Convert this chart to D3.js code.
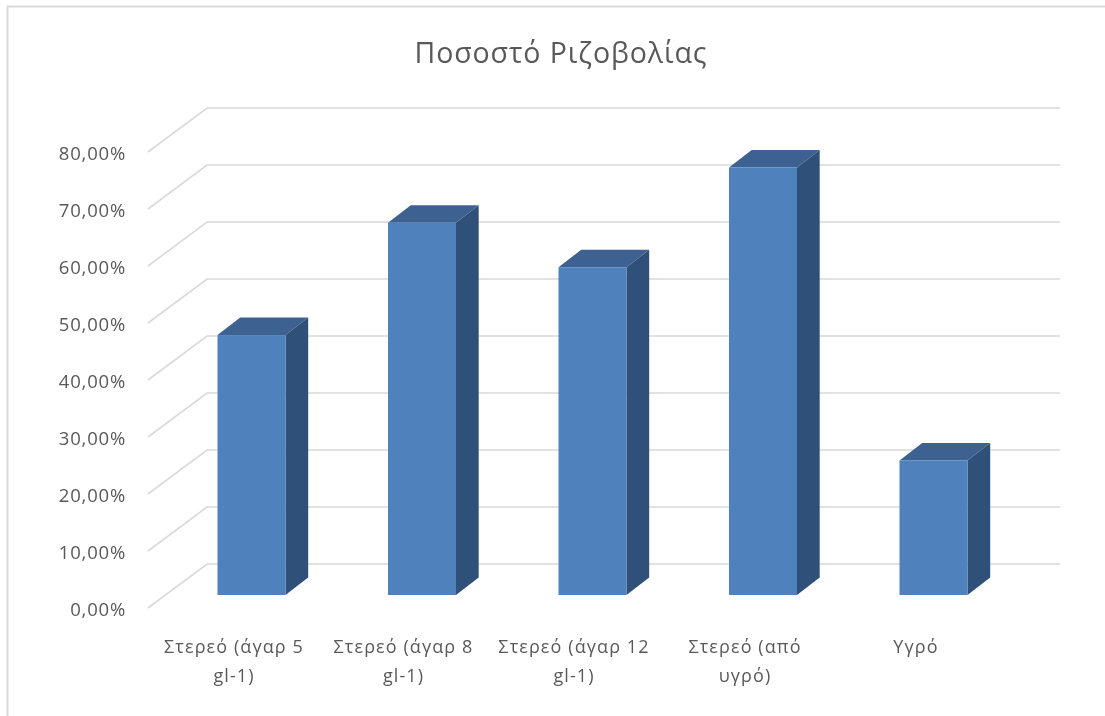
<!DOCTYPE html>
<html><head><meta charset="utf-8">
<script src="https://cdn.jsdelivr.net/npm/d3@7"></script>
<style>html,body{margin:0;padding:0;background:#fff;overflow:hidden}
svg{display:block;filter:blur(0.4px)}
text{font-family:"Open Sans","Noto Sans",sans-serif;fill:#595959}</style></head>
<body><svg id="c" width="1105" height="716"></svg>
<script>
const titleText = "Ποσοστό Ριζοβολίας";
const categories = ["Στερεό (άγαρ 5 gl-1)","Στερεό (άγαρ 8 gl-1)","Στερεό (άγαρ 12 gl-1)","Στερεό (από υγρό)","Υγρό"];
const categoryLines = [["Στερεό (άγαρ 5","gl-1)"],["Στερεό (άγαρ 8","gl-1)"],["Στερεό (άγαρ 12","gl-1)"],["Στερεό (από","υγρό)"],["Υγρό"]];
const labelCentres = [234,403.5,574,745,916];
const values = [45.6, 65.3, 57.5, 75, 23.6];
const tickValues = [0,10,20,30,40,50,60,70,80];

const svg = d3.select("#c");
const depthX = 59, depthY = 44, barDepthX = 22.7, barDepthY = 17.5;
const pxPer80 = 456;
const yFront = d3.scaleLinear().domain([0,80]).range([608, 608-pxPer80]);
const yBack  = d3.scaleLinear().domain([0,80]).range([608-depthY, 608-depthY-pxPer80]);
const yBar   = d3.scaleLinear().domain([0,80]).range([595, 595-pxPer80]);
const x = d3.scaleBand().domain(categories).range([166.25, 1018.75]).paddingInner(0.6012).paddingOuter(0.3006);
const xFront = 148, xBack = xFront+depthX, xRight = 1060;

// frame
svg.append("path").attr("d","M7.5,716V6.5H1105").attr("fill","none").attr("stroke","#d9d9d9").attr("stroke-width",2);

// gridlines
const grid = svg.append("g").attr("fill","none").attr("stroke","#d9d9d9").attr("stroke-width",1.6);
grid.selectAll("path").data(tickValues).join("path")
  .attr("d",d=>`M${xFront},${yFront(d)}L${xBack},${yBack(d)}H${xRight}`);

// tick labels
const axis = d3.axisLeft(yFront).tickValues(tickValues).tickSize(0).tickPadding(0)
  .tickFormat(d=>d3.format(".2f")(d).replace(".",",")+"%");
const ag = svg.append("g").attr("transform","translate(126,1.5)").call(axis);
ag.select(".domain").remove();
ag.selectAll("text").attr("font-size",18.5).attr("letter-spacing",0.8).style("font-family",'"Open Sans","Noto Sans",sans-serif').attr("fill","#595959");

// bars
const bars = svg.append("g").selectAll("g").data(values).join("g");
const L = (d,i)=>x(categories[i]), R=(d,i)=>x(categories[i])+x.bandwidth();
bars.append("path").attr("fill","#3d6291")
  .attr("d",(d,i)=>`M${L(d,i)},${yBar(d)}l${barDepthX},${-barDepthY}H${R(d,i)+barDepthX}L${R(d,i)},${yBar(d)}Z`);
bars.append("path").attr("fill","#2f5179")
  .attr("d",(d,i)=>`M${R(d,i)},${yBar(d)}l${barDepthX},${-barDepthY}V${yBar(0)-barDepthY}L${R(d,i)},${yBar(0)}Z`);
bars.append("rect").attr("fill","#4f81bd")
  .attr("x",L).attr("width",x.bandwidth()).attr("y",d=>yBar(d)).attr("height",d=>yBar(0)-yBar(d));

// category labels
const lab = svg.append("g").attr("text-anchor","middle").attr("font-size",18).attr("letter-spacing",1.1);
categoryLines.forEach((lines,i)=>{
  lines.forEach((t,j)=>lab.append("text").attr("x",labelCentres[i]).attr("y",653+j*29).text(t));
});

// title
svg.append("text").attr("x",561).attr("y",63).attr("text-anchor","middle").attr("font-size",28.5).attr("letter-spacing",0.9).text(titleText);
</script></body></html>
